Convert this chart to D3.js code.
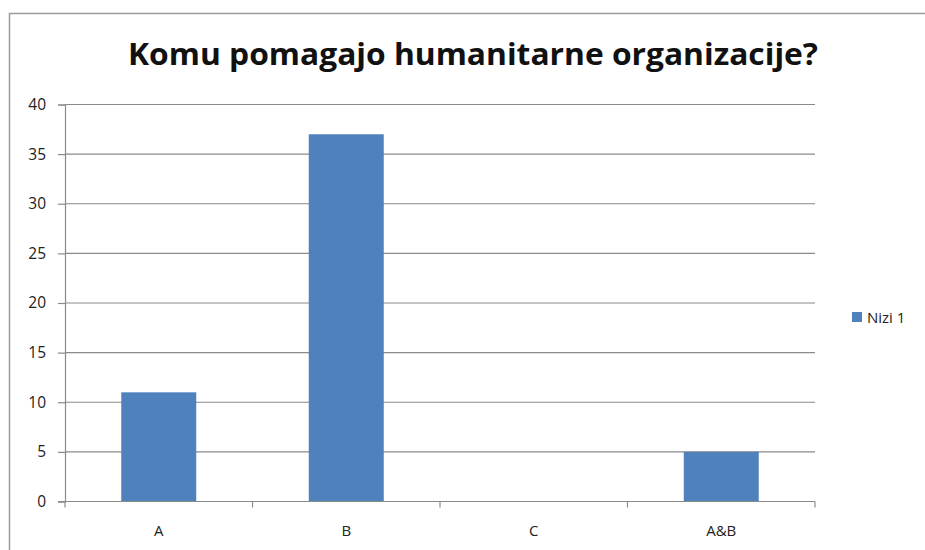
<!DOCTYPE html>
<html><head><meta charset="utf-8">
<script src="https://cdn.jsdelivr.net/npm/d3@7"></script>
<style>body{margin:0;background:#fff}svg{display:block}</style>
</head><body>
<svg id="c" width="925" height="550"></svg>
<script>
const categories = ["A", "B", "C", "A&B"];
const values = [11, 37, 0, 5];
const yTicks = [0, 5, 10, 15, 20, 25, 30, 35, 40];
const seriesName = "Nizi 1";
const title = "Komu pomagajo humanitarne organizacije?";

(function () {
const svg = d3.select("#c");
const font = "'Open Sans', Lato, sans-serif";
const gridColor = "#8a8a8a";
const barColor = "#4f81bd";

svg.append("rect").attr("x", 9.5).attr("y", 13.5).attr("width", 930).attr("height", 560)
  .attr("fill", "none").attr("stroke", "#9a9a9a").attr("stroke-width", 1.5);

const pLeft = 65, pRight = 815, pTop = 104.5, pBottom = 501.5;
const x = d3.scaleBand().domain(categories).range([pLeft, pRight]).paddingInner(0.6).paddingOuter(0.3);
const y = d3.scaleLinear().domain([0, 40]).range([pBottom, pTop]);

svg.append("g").selectAll("line").data(yTicks.filter(d => d > 0)).join("line")
  .attr("x1", pLeft).attr("x2", pRight).attr("y1", d => y(d)).attr("y2", d => y(d))
  .attr("stroke", gridColor).attr("stroke-width", 1.2);

svg.append("g").selectAll("rect").data(values).join("rect")
  .attr("x", (d, i) => x(categories[i])).attr("width", x.bandwidth())
  .attr("y", d => y(d)).attr("height", d => pBottom - y(d))
  .attr("fill", barColor);

const yAxis = svg.append("g").attr("transform", `translate(${pLeft},0)`)
  .call(d3.axisLeft(y).tickValues(yTicks).tickSize(7).tickPadding(12));
yAxis.select(".domain").attr("stroke", gridColor).attr("stroke-width", 1.2);
yAxis.selectAll(".tick line").attr("stroke", gridColor).attr("stroke-width", 1.2);
yAxis.selectAll("text").attr("font-family", font).attr("font-size", 15.5).attr("fill", "#222");

const xAxis = svg.append("g").attr("transform", `translate(0,${pBottom})`);
xAxis.append("line").attr("x1", pLeft - 7).attr("x2", pRight).attr("y1", 0).attr("y2", 0)
  .attr("stroke", gridColor).attr("stroke-width", 1.2);
const bounds = d3.range(categories.length + 1).map(i => pLeft + (pRight - pLeft) * i / categories.length);
xAxis.selectAll("line.tk").data(bounds).join("line").attr("class", "tk")
  .attr("x1", d => d).attr("x2", d => d).attr("y1", 0).attr("y2", 6)
  .attr("stroke", gridColor).attr("stroke-width", 1.2);
xAxis.selectAll("text").data(categories).join("text")
  .attr("x", d => x(d) + x.bandwidth() / 2).attr("y", 34.5)
  .attr("text-anchor", "middle").attr("font-family", font).attr("font-size", 15).attr("fill", "#222")
  .text(d => d);

svg.append("text").attr("x", 473).attr("y", 65).attr("text-anchor", "middle")
  .attr("font-family", font).attr("font-weight", "bold").attr("font-size", 31).attr("fill", "#111")
  .attr("textLength", 690).attr("lengthAdjust", "spacingAndGlyphs")
  .text(title);

svg.append("rect").attr("x", 852).attr("y", 312).attr("width", 10).attr("height", 10).attr("fill", barColor);
svg.append("text").attr("x", 867).attr("y", 323).attr("font-family", font).attr("font-size", 15).attr("fill", "#222")
  .text(seriesName);
})();
</script>
</body></html>
